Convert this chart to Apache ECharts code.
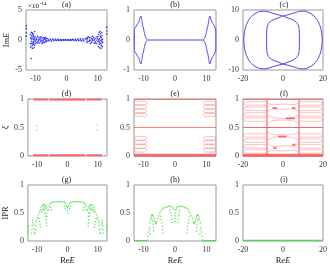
<!DOCTYPE html>
<html><head><meta charset="utf-8">
<script src="https://cdn.jsdelivr.net/npm/echarts@6/dist/echarts.min.js"></script>
<style>html,body{margin:0;padding:0;background:#fff}#c{width:330px;height:266px}</style>
</head><body><div id="c"></div>
<script>
// ---------- tick labels ----------
const xTicksA = [-10, 0, 10];
const xTicksC = [-20, 0, 20];
const yTicksA = [-5, 0, 5];
const yTicksB = [-1, 0, 1];
const yTicksC = [-10, 0, 10];
const yTicks01 = [0, 0.5, 1];
const panelTitles = ['(a)','(b)','(c)','(d)','(e)','(f)','(g)','(h)','(i)'];

// ---------- (a) Im E (x1e-14) scatter ----------
const aPts = [
[-12.9,0.6],[-12.9,1.2],[-12.9,1.9],[-12.9,2.4],[-11.3,-3.1],
[-11.6,0.9],[-11.5,-1.2],[-11.45,0.4],[-11.4,-0.6],[-11.3,1.3],[-11.25,-0.2],[-11.2,0.7],[-11.1,-1.0],[-11.05,0.2],[-11.0,-0.5],[-10.9,1.1],[-10.85,-0.8],[-10.8,0.5],[-10.7,-0.3],[-10.65,0.8],[-10.6,0.1],[-10.5,-0.4],[-10.45,0.55],[-10.4,-1.3],[-10.3,0.3],[-10.25,-0.9],[-10.2,1.4],[-11.55,-0.6],[-11.35,0.15],[-11.15,1.2],[-10.95,-1.4],[-10.75,0.95],[-10.55,-0.65],[-10.35,0.0],
[-10.1,0.5],[-9.9,-0.6],[-9.7,0.3],[-9.5,-0.4],[-9.3,0.6],[-9.1,-0.2],[-8.9,0.4],[-8.7,-0.5],[-8.5,0.2],[-8.3,-0.3],[-8.1,0.5],[-7.9,-0.6],[-7.7,0.3],[-7.5,-0.2],[-7.3,0.4],[-7.1,-0.4],[-6.9,0.2],[-6.7,-0.3],[-6.5,0.3],[-6.3,-0.1],[-10.0,-0.2],[-9.6,0.1],[-9.2,-0.5],[-8.8,0.05],[-8.4,0.45],[-8.0,-0.1],[-7.6,-0.45],[-7.2,0.1],[-6.8,0.4],[-6.4,-0.25],[-9.8,0.0],[-9.0,0.0],[-8.2,0.0],[-7.4,0.0],[-6.6,0.0],
[-6.0,0.2],[-5.6,-0.15],[-5.2,0.1],[-4.8,-0.2],[-4.4,0.15],[-4.0,-0.1],[-3.6,0.12],[-3.2,-0.08],[-2.8,0.1],[-2.4,-0.1],[-2.0,0.06],[-1.6,-0.08],[-1.2,0.05],[-0.8,-0.05],[-0.4,0.06],[0,-0.04],[0.4,0.05],[0.8,-0.07],[1.2,0.08],[1.6,-0.06],[2.0,0.1],[2.4,-0.1],[2.8,0.12],[3.2,-0.1],[3.6,0.15],[4.0,-0.12],[4.4,0.18],[4.8,-0.15],[5.2,0.2],[5.6,-0.18],[6.0,0.15],
[-5.8,0],[-5.0,0],[-4.2,0],[-3.4,0],[-2.6,0],[-1.8,0],[-1.0,0],[-0.2,0],[0.6,0],[1.4,0],[2.2,0],[3.0,0],[3.8,0],[4.6,0],[5.4,0],
[6.3,0.3],[6.5,-0.4],[6.7,0.2],[6.9,-0.3],[7.1,0.5],[7.3,-0.2],[7.5,0.4],[7.7,-0.6],[7.9,0.3],[8.1,-0.4],[8.3,0.6],[8.5,-0.1],[8.7,0.4],[8.9,-0.5],[9.1,0.2],[9.3,-0.3],[9.5,0.5],[9.7,-0.6],[9.9,0.3],[10.1,-0.2],[6.6,0.0],[7.4,0.0],[8.2,0.0],[9.0,0.0],[9.8,0.0],[6.8,0.45],[7.6,-0.1],[8.4,0.15],[9.2,-0.55],[10.0,0.55],
[10.2,-1.1],[10.3,0.9],[10.4,-0.3],[10.5,1.3],[10.55,-0.7],[10.6,0.2],[10.7,-1.3],[10.8,0.6],[10.85,-0.1],[10.9,1.0],[11.0,-0.6],[11.1,0.4],[11.2,-0.9],[11.3,1.2],[11.35,-0.3],[11.4,0.7],[11.5,-1.1],[11.55,0.1],[11.6,-0.4],[10.35,0.05],[10.75,1.4],[11.05,-1.4],[11.25,0.0],[10.65,-0.45],
[12.9,1.0],[12.9,1.5],[12.9,2.1]
];

// ---------- (b) Im E curves ----------
const bLoopLeft = [[-8.7,0],[-9.1,0.05],[-9.5,0.14],[-9.8,0.28],[-10.0,0.4],[-10.2,0.46],[-10.4,0.58],[-10.6,0.72],[-10.8,0.8],[-11.0,0.77],[-11.2,0.68],[-11.5,0.6],[-11.8,0.55],[-12.1,0.5],[-12.4,0.44],[-12.8,0.38],[-12.9,0.25],[-12.9,-0.25],[-12.8,-0.38],[-12.4,-0.44],[-12.1,-0.5],[-11.8,-0.55],[-11.5,-0.6],[-11.2,-0.68],[-11.0,-0.77],[-10.8,-0.8],[-10.6,-0.72],[-10.4,-0.58],[-10.2,-0.46],[-10.0,-0.4],[-9.8,-0.28],[-9.5,-0.14],[-9.1,-0.05],[-8.7,0]];
const bLoopRight = [[8.9,0],[9.3,0.05],[9.7,0.14],[10.0,0.28],[10.2,0.4],[10.4,0.46],[10.6,0.58],[10.8,0.72],[11.0,0.8],[11.2,0.77],[11.4,0.68],[11.7,0.6],[12.0,0.55],[12.3,0.5],[12.6,0.44],[12.9,0.36],[12.95,0.25],[12.95,-0.25],[12.9,-0.36],[12.6,-0.44],[12.3,-0.5],[12.0,-0.55],[11.7,-0.6],[11.4,-0.68],[11.2,-0.77],[11.0,-0.8],[10.8,-0.72],[10.6,-0.58],[10.4,-0.46],[10.2,-0.4],[10.0,-0.28],[9.7,-0.14],[9.3,-0.05],[8.9,0]];
const bLine = [[-8.7,0],[8.9,0]];

// ---------- (c) Im E vs Re E (complex loops) ----------
const cLoop1 = [[0,8.0],[-3,8.5],[-6,9.1],[-9,9.6],[-11,9.6],[-13,9.1],[-15,8.3],[-17,6.8],[-18.6,4.5],[-19.4,2],[-19.6,0],[-19.4,-2],[-18.6,-4.5],[-17,-6.8],[-15,-8.3],[-13,-9.1],[-11,-9.6],[-9,-9.6],[-6,-9.1],[-3,-8.5],[0,-8.0],[3,-7.2],[5,-6.7],[6.6,-6.0],[7.6,-5.0],[8.1,-3.5],[8.2,0],[8.1,3.5],[7.6,5.0],[6.6,6.0],[5,6.7],[3,7.2],[0,8.0]];
const cLoop2 = [[0,8.0],[3,8.5],[6,9.1],[9,9.6],[11,9.6],[13,9.1],[15,8.3],[17,6.8],[18.6,4.5],[19.4,2],[19.6,0],[19.4,-2],[18.6,-4.5],[17,-6.8],[15,-8.3],[13,-9.1],[11,-9.6],[9,-9.6],[6,-9.1],[3,-8.5],[0,-8.0],[-3,-7.2],[-5,-6.7],[-6.6,-6.0],[-7.6,-5.0],[-8.1,-3.5],[-8.2,0],[-8.1,3.5],[-7.6,5.0],[-6.6,6.0],[-5,6.7],[-3,7.2],[0,8.0]];

// ---------- (d) xi bands ----------
const dBands = [
[[-11.2,0.99],[-6.3,0.99]],[[-5.9,0.99],[5.8,0.99]],[[6.2,0.99],[11.3,0.99]],
[[-11.3,0.015],[-6.3,0.015]],[[-5.9,0.015],[5.8,0.015]],[[6.2,0.015],[11.4,0.015]]
];
const dPts = [[-10.1,0.53],[-10.1,0.45],[9.8,0.55],[9.8,0.45],[-12.2,0.01],[12.3,0.01],[-12.6,0.99],[12.6,0.99]];

// ---------- (e) xi curves ----------
const eLines = [[[-13,0.995],[13,0.995]],[[-13,0.5],[13,0.5]]];
const eBottom = [[-13,0.012],[13,0.012]];
const eLoops = [
[[-12.9,0.93],[-12.5,0.96],[-9.6,0.96],[-9.0,0.93],[-9.6,0.9],[-12.5,0.9],[-12.9,0.93]],
[[-12.9,0.86],[-12.5,0.89],[-9.6,0.89],[-9.0,0.86],[-9.6,0.83],[-12.5,0.83],[-12.9,0.86]],
[[-12.9,0.79],[-12.5,0.82],[-9.6,0.82],[-9.0,0.79],[-9.6,0.76],[-12.5,0.76],[-12.9,0.79]],
[[-12.9,0.72],[-12.5,0.75],[-9.6,0.75],[-9.0,0.72],[-9.6,0.69],[-12.5,0.69],[-12.9,0.72]],
[[-12.9,0.31],[-12.5,0.34],[-9.6,0.34],[-9.0,0.31],[-9.6,0.28],[-12.5,0.28],[-12.9,0.31]],
[[-12.9,0.24],[-12.5,0.27],[-9.6,0.27],[-9.0,0.24],[-9.6,0.21],[-12.5,0.21],[-12.9,0.24]],
[[-12.9,0.17],[-12.5,0.2],[-9.6,0.2],[-9.0,0.17],[-9.6,0.14],[-12.5,0.14],[-12.9,0.17]],
[[-12.9,0.1],[-12.5,0.13],[-9.6,0.13],[-9.0,0.1],[-9.6,0.07],[-12.5,0.07],[-12.9,0.1]],
[[12.9,0.93],[12.5,0.96],[9.6,0.96],[9.0,0.93],[9.6,0.9],[12.5,0.9],[12.9,0.93]],
[[12.9,0.86],[12.5,0.89],[9.6,0.89],[9.0,0.86],[9.6,0.83],[12.5,0.83],[12.9,0.86]],
[[12.9,0.79],[12.5,0.82],[9.6,0.82],[9.0,0.79],[9.6,0.76],[12.5,0.76],[12.9,0.79]],
[[12.9,0.72],[12.5,0.75],[9.6,0.75],[9.0,0.72],[9.6,0.69],[12.5,0.69],[12.9,0.72]],
[[12.9,0.31],[12.5,0.34],[9.6,0.34],[9.0,0.31],[9.6,0.28],[12.5,0.28],[12.9,0.31]],
[[12.9,0.24],[12.5,0.27],[9.6,0.27],[9.0,0.24],[9.6,0.21],[12.5,0.21],[12.9,0.24]],
[[12.9,0.17],[12.5,0.2],[9.6,0.2],[9.0,0.17],[9.6,0.14],[12.5,0.14],[12.9,0.17]],
[[12.9,0.1],[12.5,0.13],[9.6,0.13],[9.0,0.1],[9.6,0.07],[12.5,0.07],[12.9,0.1]]
];

// ---------- (f) xi curves ----------
const fLines = [[[-20,0.995],[20,0.995]],[[-20,0.5],[20,0.5]],[[-8,0],[-8,1]],[[8,0],[8,1]]];
const fBottom = [[-20,0.015],[20,0.015]];
const fSide = [
[[-8,0.95],[-18.6,0.95],[-19.6,0.92],[-18.6,0.89],[-8,0.89]],
[[-8,0.86],[-18.6,0.86],[-19.6,0.83],[-18.6,0.8],[-8,0.8]],
[[-8,0.76],[-18.6,0.76],[-19.6,0.73],[-18.6,0.7],[-8,0.7]],
[[-8,0.67],[-18.6,0.67],[-19.6,0.64],[-18.6,0.61],[-8,0.61]],
[[-8,0.39],[-18.6,0.39],[-19.6,0.36],[-18.6,0.33],[-8,0.33]],
[[-8,0.3],[-18.6,0.3],[-19.6,0.27],[-18.6,0.24],[-8,0.24]],
[[-8,0.2],[-18.6,0.2],[-19.6,0.17],[-18.6,0.14],[-8,0.14]],
[[-8,0.11],[-18.6,0.11],[-19.6,0.08],[-18.6,0.05],[-8,0.05]],
[[8,0.95],[18.6,0.95],[19.6,0.92],[18.6,0.89],[8,0.89]],
[[8,0.86],[18.6,0.86],[19.6,0.83],[18.6,0.8],[8,0.8]],
[[8,0.76],[18.6,0.76],[19.6,0.73],[18.6,0.7],[8,0.7]],
[[8,0.67],[18.6,0.67],[19.6,0.64],[18.6,0.61],[8,0.61]],
[[8,0.39],[18.6,0.39],[19.6,0.36],[18.6,0.33],[8,0.33]],
[[8,0.3],[18.6,0.3],[19.6,0.27],[18.6,0.24],[8,0.24]],
[[8,0.2],[18.6,0.2],[19.6,0.17],[18.6,0.14],[8,0.14]],
[[8,0.11],[18.6,0.11],[19.6,0.08],[18.6,0.05],[8,0.05]]
];
const fCenter = [
[[-8,0.93],[-5,0.9],[0,0.91],[5,0.9],[8,0.93]],
[[-8,0.77],[-5,0.83],[0,0.82],[5,0.83],[8,0.77]],
[[-8,0.72],[-4,0.67],[0,0.66],[4,0.67],[8,0.72]],
[[-8,0.57],[-5,0.62],[0,0.63],[5,0.62],[8,0.57]],
[[-8,0.43],[-5,0.38],[0,0.37],[5,0.38],[8,0.43]],
[[-8,0.28],[-4,0.33],[0,0.34],[4,0.33],[8,0.28]],
[[-8,0.23],[-5,0.17],[0,0.18],[5,0.17],[8,0.23]],
[[-8,0.07],[-5,0.1],[0,0.09],[5,0.1],[8,0.07]]
];
const fDashes = [[[-5.2,0.84],[-3,0.84]],[[4.5,0.84],[6.2,0.84]],[[1.5,0.66],[6,0.66]],[[-2.4,0.34],[1.6,0.34]],[[4.5,0.2],[6.2,0.2]],[[-5,0.14],[-3,0.14]]];

// ---------- (g) IPR scatter ----------
const gPts = [
[-12.9,0.16],[-12.9,0.22],[-12.9,0.27],
[-11.8,0.14],[-11.7,0.2],[-11.6,0.27],[-11.5,0.33],[-11.4,0.37],[-11.2,0.3],[-11.0,0.22],[-10.9,0.15],
[-10.6,0.13],[-10.5,0.2],[-10.4,0.28],[-10.3,0.34],
[-10.1,0.38],[-9.8,0.42],[-9.5,0.47],[-9.2,0.52],[-8.9,0.56],[-8.6,0.6],[-8.3,0.63],[-8.0,0.645],[-7.7,0.65],[-7.4,0.64],[-7.1,0.62],[-6.8,0.59],[-6.5,0.55],
[-8.6,0.52],[-8.3,0.55],[-8.0,0.57],[-7.7,0.56],[-7.4,0.5],[-7.2,0.44],[-7.0,0.38],[-6.9,0.32],[-6.8,0.27],[-7.6,0.6],[-7.3,0.57],[-7.0,0.5],[-6.8,0.44],
[-9.4,0.4],[-9.2,0.35],[-9.0,0.3],[-8.9,0.25],
[-6.2,0.56],[-6.0,0.62],[-5.8,0.66],[-5.5,0.68],[-5.0,0.69],[-4.5,0.695],[-4.0,0.7],[-3.5,0.7],[-3.0,0.7],[-2.5,0.7],[-2.0,0.7],[-1.5,0.695],[-1.0,0.69],[-0.6,0.67],[-0.3,0.63],
[0,0.5],[0,0.55],[0,0.6],
[0.3,0.63],[0.6,0.67],[1.0,0.69],[1.5,0.695],[2.0,0.7],[2.5,0.7],[3.0,0.7],[3.5,0.7],[4.0,0.7],[4.5,0.695],[5.0,0.69],[5.5,0.68],[5.8,0.66],[6.0,0.62],[6.2,0.56],
[-1.0,0.62],[-0.7,0.58],[1.0,0.62],[0.7,0.58],[-5.5,0.6],[-5.3,0.55],[5.5,0.6],[5.3,0.55],
[6.5,0.55],[6.8,0.59],[7.1,0.62],[7.4,0.64],[7.7,0.65],[8.0,0.645],[8.3,0.63],[8.6,0.6],[8.9,0.56],[9.2,0.52],[9.5,0.47],[9.8,0.42],[10.1,0.38],
[8.6,0.52],[8.3,0.55],[8.0,0.57],[7.7,0.56],[7.4,0.5],[7.2,0.44],[7.0,0.38],[6.9,0.32],[6.8,0.27],[7.6,0.6],[7.3,0.57],[7.0,0.5],[6.8,0.44],
[9.4,0.4],[9.2,0.35],[9.0,0.3],[8.9,0.25],
[10.3,0.34],[10.4,0.28],[10.5,0.2],[10.6,0.13],
[10.9,0.15],[11.0,0.22],[11.2,0.3],[11.4,0.37],[11.5,0.33],[11.6,0.27],[11.7,0.2],[11.8,0.14],
[12.9,0.18],[12.9,0.24],[12.9,0.28]
];

// ---------- (h) IPR scatter ----------
const hBase = [[[-13,0.006],[-8.8,0.006]],[[8.8,0.006],[13,0.006]]];
const hPts = [
[-8.8,0.02],[-8.6,0.08],[-8.4,0.16],[-8.2,0.24],[-8.0,0.32],[-7.8,0.38],[-7.6,0.43],[-7.4,0.46],[-7.2,0.47],[-7.0,0.46],[-6.8,0.43],[-6.6,0.39],[-6.4,0.35],[-6.2,0.32],[-6.0,0.31],
[-7.4,0.4],[-7.2,0.36],[-7.0,0.3],[-6.9,0.24],[-6.8,0.18],[-8.0,0.2],[-7.9,0.12],
[-5.8,0.34],[-5.5,0.4],[-5.2,0.45],[-4.8,0.5],[-4.4,0.54],[-4.0,0.57],[-3.5,0.59],[-3.0,0.6],[-2.5,0.61],[-2.0,0.62],[-1.5,0.62],[-1.0,0.61],[-0.6,0.59],[-0.3,0.56],
[0,0.5],[0,0.45],[0,0.4],[0,0.35],
[0.3,0.56],[0.6,0.59],[1.0,0.61],[1.5,0.62],[2.0,0.62],[2.5,0.61],[3.0,0.6],[3.5,0.59],[4.0,0.57],[4.4,0.54],[4.8,0.5],[5.2,0.45],[5.5,0.4],[5.8,0.34],
[-4.6,0.44],[-4.4,0.38],[-4.2,0.32],[-4.0,0.26],[-3.9,0.2],[-3.8,0.14],[-1.6,0.55],[-1.4,0.5],[-1.2,0.45],[-1.0,0.39],[-0.9,0.33],
[4.6,0.44],[4.4,0.38],[4.2,0.32],[4.0,0.26],[3.9,0.2],[3.8,0.14],[1.6,0.55],[1.4,0.5],[1.2,0.45],[1.0,0.39],[0.9,0.33],
[6.0,0.31],[6.2,0.32],[6.4,0.35],[6.6,0.39],[6.8,0.43],[7.0,0.46],[7.2,0.47],[7.4,0.46],[7.6,0.43],[7.8,0.38],[8.0,0.32],[8.2,0.24],[8.4,0.16],[8.6,0.08],[8.8,0.02],
[7.4,0.4],[7.2,0.36],[7.0,0.3],[6.9,0.24],[6.8,0.18],[8.0,0.2],[7.9,0.12]
];

// ---------- (i) IPR flat ----------
const iLine = [[-20,0.008],[20,0.008]];

// ================= layout & styling =================
const FONT = 'Liberation Serif';
const BLUE_PT = '#1a1aff', BLUE_LN = '#4848f2', RED = '#ff4a4a', GREEN = '#3fdc3f';
const cols = [{left:26,width:81},{left:134,width:82},{left:243,width:82}];
const rows = [{top:10,height:60},{top:99,height:57},{top:185,height:58}];
const xRanges = [[-13,13],[-13,13],[-20,20]];
const yRanges = [[[-5,5],[-1,1],[-10,10]],[[0,1],[0,1],[0,1]],[[0,1],[0,1],[0,1]]];
const yTicksByPanel = [[yTicksA,yTicksB,yTicksC],[yTicks01,yTicks01,yTicks01],[yTicks01,yTicks01,yTicks01]];
const yNames = ['{r|Im}{i|E}','{i|ξ}','{r|IPR}'];
const rich = {r:{fontFamily:FONT,fontSize:8.5,color:'#222'},i:{fontFamily:FONT,fontSize:8.5,fontStyle:'italic',color:'#222'}};

const grids=[], xAxes=[], yAxes=[], graphics=[];
for (let r=0;r<3;r++) for (let c=0;c<3;c++){
  const k=r*3+c;
  grids.push({left:cols[c].left,top:rows[r].top,width:cols[c].width,height:rows[r].height,show:true,borderColor:'#999',borderWidth:1,backgroundColor:'transparent'});
  xAxes.push({type:'value',gridIndex:k,min:xRanges[c][0],max:xRanges[c][1],
    axisLine:{show:false},axisTick:{show:false},splitLine:{show:false},
    axisLabel:{customValues:(c===2?xTicksC:xTicksA),fontFamily:FONT,fontSize:8,color:'#333',margin:5},
    name:(r===2?'{r|Re}{i|E}':''),nameLocation:'middle',nameGap:15,nameTextStyle:{rich}});
  yAxes.push({type:'value',gridIndex:k,min:yRanges[r][c][0],max:yRanges[r][c][1],
    axisLine:{show:false},axisTick:{show:false},splitLine:{show:false},
    axisLabel:{customValues:yTicksByPanel[r][c],fontFamily:FONT,fontSize:8,color:'#333',margin:4},
    name:(c===0?yNames[r]:''),nameLocation:'middle',nameRotate:90,nameGap:14,nameTextStyle:{rich}});
  graphics.push({type:'text',x:cols[c].left+cols[c].width/2,y:rows[r].top-9,style:{text:panelTitles[k],font:'8px "'+FONT+'"',fill:'#222',textAlign:'center'}});
}
graphics.push({type:'text',x:28,y:0,style:{text:'{a|×10}{b|-14}',rich:{a:{fontFamily:FONT,fontSize:7,color:'#333',padding:[3,0,0,0]},b:{fontFamily:FONT,fontSize:5,color:'#333',padding:[0,0,3,1]}}}});

const series=[];
function line(k,data,color,width,opacity,smooth){
  series.push({type:'line',xAxisIndex:k,yAxisIndex:k,data:data,showSymbol:false,symbol:'none',smooth:smooth||false,silent:true,animation:false,
    lineStyle:{color:color,width:width,opacity:opacity==null?1:opacity}});
}
function scat(k,data,color,size,opacity){
  series.push({type:'scatter',xAxisIndex:k,yAxisIndex:k,data:data,symbolSize:size,silent:true,animation:false,
    itemStyle:{color:color,opacity:opacity==null?1:opacity}});
}
// (a)
scat(0,aPts,BLUE_PT,1.6,0.9);
// (b)
line(1,bLoopLeft,BLUE_LN,1,1,0.2); line(1,bLoopRight,BLUE_LN,1,1,0.2); line(1,bLine,BLUE_LN,1);
// (c)
line(2,cLoop1,BLUE_LN,1,1,0.4); line(2,cLoop2,BLUE_LN,1,1,0.4);
// (d)
dBands.forEach(s=>line(3,s,RED,2.2,0.7)); scat(3,dPts,RED,1.5,0.5);
// (e)
eLines.forEach(s=>line(4,s,RED,1,0.7)); line(4,eBottom,RED,3,0.8);
eLoops.forEach(s=>line(4,s,RED,0.7,0.5,0.4));
// (f)
fLines.forEach(s=>line(5,s,RED,1.1,0.85)); line(5,fBottom,RED,3,0.8);
fSide.forEach(s=>line(5,s,RED,0.7,0.5,0.4));
fCenter.forEach(s=>line(5,s,RED,0.7,0.5,0.4));
fDashes.forEach(s=>line(5,s,RED,1.6,0.85));
// (g)
scat(6,gPts,GREEN,1.5,0.85);
// (h)
hBase.forEach(s=>line(7,s,GREEN,1.2,0.85)); scat(7,hPts,GREEN,1.5,0.85);
// (i)
line(8,iLine,GREEN,1.5,0.85);

const chart = echarts.init(document.getElementById('c'),null,{renderer:'canvas'});
chart.setOption({animation:false,grid:grids,xAxis:xAxes,yAxis:yAxes,series:series,graphic:graphics});
</script></body></html>
